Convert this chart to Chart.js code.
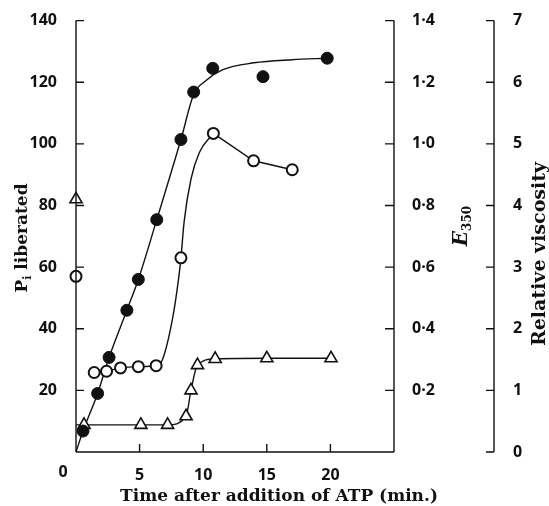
<!DOCTYPE html>
<html>
<head>
<meta charset="utf-8">
<script src="https://cdn.jsdelivr.net/npm/chart.js@4.4.1/dist/chart.umd.min.js"></script>
<style>
  html, body { margin: 0; background: #fff; }
  canvas { display: block; }
</style>
</head>
<body>
<canvas id="chart" width="549" height="506"></canvas>
<script>
// P_i liberated (filled circles)
const pTime  = [0.55, 1.7, 2.6, 4.0, 4.9, 6.35, 8.25, 9.25, 10.75, 14.7, 19.75];
const pValue = [6.8, 19, 30.7, 46, 56, 75.4, 101.4, 116.8, 124.5, 121.8, 127.8];
// smooth curve drawn through the P_i points
const pCurveTime  = [0, 0.55, 1.7, 2.6, 4.0, 4.9, 6.35, 8.25, 9.25, 10.2, 11.5, 14, 17, 19.75];
const pCurveValue = [0, 6.8, 19, 30.7, 46, 56, 75.4, 101.4, 116, 120.5, 124, 126.3, 127.3, 127.8];

// E350 (open circles)
const eTime  = [0, 1.43, 2.4, 3.5, 4.9, 6.3, 8.25, 10.8, 13.96, 17];
const eValue = [0.57, 0.258, 0.262, 0.273, 0.277, 0.28, 0.63, 1.034, 0.945, 0.916];
const eRiseTime  = [1.43, 2.4, 3.5, 4.9, 6.3, 6.8, 7.6, 8.07, 8.25, 8.5, 9.04, 9.7, 10.8];
const eRiseValue = [0.258, 0.262, 0.273, 0.277, 0.28, 0.30, 0.435, 0.564, 0.63, 0.747, 0.886, 0.972, 1.034];
const eFallTime  = [10.8, 13.96, 17];
const eFallValue = [1.034, 0.945, 0.916];

// Relative viscosity (open triangles)
const vTime  = [0, 0.63, 5.1, 7.2, 8.65, 9.04, 9.55, 10.94, 15.0, 20.05];
const vValue = [4.1, 0.44, 0.44, 0.44, 0.58, 1.0, 1.41, 1.51, 1.52, 1.52];
const vLineTime  = [0, 0.63, 5.1, 7.2, 8.65, 9.04, 9.55, 10.94, 15.0, 20.05];
const vLineValue = [0.44, 0.44, 0.44, 0.44, 0.58, 1.0, 1.41, 1.51, 1.52, 1.52];

// axis ticks
const timeTicks = [5, 10, 15, 20];
const pTicks = [0, 20, 40, 60, 80, 100, 120, 140];
const eTicks = [0, 0.2, 0.4, 0.6, 0.8, 1.0, 1.2, 1.4];
const vTicks = [0, 1, 2, 3, 4, 5, 6, 7];

const ink = "#111";
const tickFont = { family: "Open Sans", size: 16, weight: "bold" };
const titleFont = '"DejaVu Serif"';

const pts = (xs, ys) => xs.map((x, i) => ({ x: x, y: ys[i] }));

// draws a label made of pieces, some of them lowered like a subscript
function drawPieces(ctx, pieces) {
    let total = 0;
    pieces.forEach(p => { ctx.font = p.font; p.w = ctx.measureText(p.text).width; total += p.w; });
    let x = -total / 2;
    pieces.forEach(p => {
        ctx.font = p.font;
        ctx.fillText(p.text, x, p.dy || 0);
        x += p.w;
    });
}

const axesPlugin = {
    id: "axes",
    afterDraw(chart) {
        const { ctx } = chart;
        const sx = chart.scales.x, sp = chart.scales.y, se = chart.scales.e, sv = chart.scales.v;
        const x0 = sx.getPixelForValue(0), x1 = sx.getPixelForValue(25);
        const yTop = sp.getPixelForValue(140), yBot = sp.getPixelForValue(0);
        ctx.save();
        ctx.strokeStyle = ink;
        ctx.lineWidth = 1.4;
        ctx.beginPath();
        // left axis
        ctx.moveTo(x0, yTop); ctx.lineTo(x0, yBot);
        pTicks.forEach(t => { const y = sp.getPixelForValue(t); ctx.moveTo(x0, y); ctx.lineTo(x0 + 8, y); });
        // bottom axis
        ctx.moveTo(x0, yBot); ctx.lineTo(x1, yBot);
        timeTicks.forEach(t => { const x = sx.getPixelForValue(t); ctx.moveTo(x, yBot); ctx.lineTo(x, yBot - 8); });
        // E350 axis
        const ex = se.left;
        ctx.moveTo(ex, se.getPixelForValue(1.4)); ctx.lineTo(ex, se.getPixelForValue(0));
        eTicks.forEach(t => { const y = se.getPixelForValue(t); ctx.moveTo(ex, y); ctx.lineTo(ex - 9, y); });
        // viscosity axis
        const vx = sv.left;
        ctx.moveTo(vx, sv.getPixelForValue(7)); ctx.lineTo(vx, sv.getPixelForValue(0));
        vTicks.forEach(t => { const y = sv.getPixelForValue(t); ctx.moveTo(vx, y); ctx.lineTo(vx - 8, y); });
        ctx.stroke();

        ctx.fillStyle = ink;
        // shared origin label
        ctx.font = "bold 16px 'Open Sans'";
        ctx.textAlign = "center";
        ctx.textBaseline = "middle";
        ctx.fillText("0", x0 - 13, yBot + 20);

        ctx.textBaseline = "alphabetic";
        ctx.textAlign = "left";
        // x title
        ctx.save();
        ctx.translate(279, 501);
        drawPieces(ctx, [{ text: "Time after addition of ATP (min.)", font: "bold 17px " + titleFont }]);
        ctx.restore();

        // left title: P_i liberated
        ctx.save();
        ctx.translate(27, 238);
        ctx.rotate(-Math.PI / 2);
        drawPieces(ctx, [
            { text: "P", font: "bold 17px " + titleFont },
            { text: "i", font: "bold 11px " + titleFont, dy: 4 },
            { text: " liberated", font: "bold 17px " + titleFont }
        ]);
        ctx.restore();

        // E350 title
        ctx.save();
        ctx.translate(467, 226);
        ctx.rotate(-Math.PI / 2);
        drawPieces(ctx, [
            { text: "E", font: "italic bold 20px " + titleFont },
            { text: "350", font: "bold 12px " + titleFont, dy: 4 }
        ]);
        ctx.restore();

        // viscosity title
        ctx.save();
        ctx.translate(545, 254);
        ctx.rotate(-Math.PI / 2);
        drawPieces(ctx, [{ text: "Relative viscosity", font: "bold 19px " + titleFont }]);
        ctx.restore();
        ctx.restore();
    }
};

const dot = (t) => t.toFixed(1).replace(".", "\u00b7");

new Chart(document.getElementById("chart"), {
    type: "line",
    data: {
        datasets: [
            {
                data: pts(pTime, pValue), yAxisID: "y", showLine: false,
                pointStyle: "circle", pointRadius: 6, pointBackgroundColor: ink, pointBorderColor: ink, pointBorderWidth: 1,
                clip: false
            },
            {
                data: pts(eTime, eValue), yAxisID: "e", showLine: false,
                pointStyle: "circle", pointRadius: 5.5, pointBackgroundColor: "#fff", pointBorderColor: ink, pointBorderWidth: 2,
                clip: false
            },
            {
                data: pts(vTime, vValue), yAxisID: "v", showLine: false,
                pointStyle: "triangle", pointRadius: 7, pointBackgroundColor: "#fff", pointBorderColor: ink, pointBorderWidth: 1.6,
                clip: false
            },
            {
                data: pts(pCurveTime, pCurveValue), yAxisID: "y", pointRadius: 0,
                borderColor: ink, borderWidth: 1.4, cubicInterpolationMode: "monotone", clip: false
            },
            {
                data: pts(eRiseTime, eRiseValue), yAxisID: "e", pointRadius: 0,
                borderColor: ink, borderWidth: 1.4, cubicInterpolationMode: "monotone", clip: false
            },
            {
                data: pts(eFallTime, eFallValue), yAxisID: "e", pointRadius: 0,
                borderColor: ink, borderWidth: 1.4, tension: 0, clip: false
            },
            {
                data: pts(vLineTime, vLineValue), yAxisID: "v", pointRadius: 0,
                borderColor: ink, borderWidth: 1.4, cubicInterpolationMode: "monotone", clip: false
            }
        ]
    },
    options: {
        responsive: false,
        animation: false,
        devicePixelRatio: 1,
        layout: { padding: { top: 17, left: 0, right: 0, bottom: 0 } },
        plugins: { legend: { display: false }, tooltip: { enabled: false } },
        scales: {
            x: {
                type: "linear", min: 0, max: 25,
                grid: { display: false }, border: { display: false },
                afterFit: s => { s.height = 54; },
                ticks: {
                    stepSize: 5, color: ink, font: tickFont, padding: 6,
                    callback: v => (v > 0 && v < 25 ? v : "")
                }
            },
            y: {
                position: "left", min: 0, max: 140,
                grid: { display: false }, border: { display: false },
                afterFit: s => { s.width = 76; },
                ticks: {
                    stepSize: 20, color: ink, font: tickFont, padding: 11,
                    callback: v => (v > 0 ? v : "")
                }
            },
            e: {
                position: "right", min: 0, max: 1.4,
                grid: { display: false }, border: { display: false },
                afterFit: s => { s.width = 100; },
                ticks: {
                    stepSize: 0.2, color: ink, font: tickFont, padding: 10,
                    callback: v => (v > 0 ? dot(v) : "")
                }
            },
            v: {
                position: "right", min: 0, max: 7,
                grid: { display: false }, border: { display: false },
                afterFit: s => { s.width = 55; },
                ticks: { stepSize: 1, color: ink, font: tickFont, padding: 11 }
            }
        }
    },
    plugins: [axesPlugin]
});
</script>
</body>
</html>
